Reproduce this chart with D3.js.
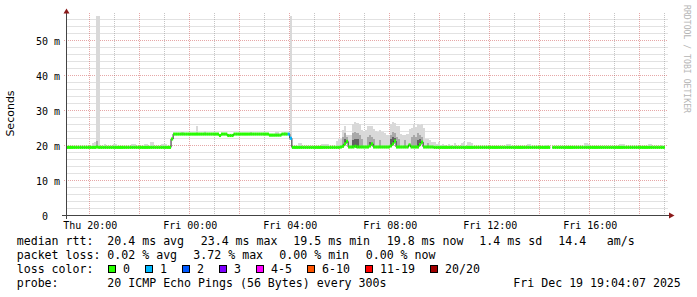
<!DOCTYPE html>
<html>
<head>
<meta charset="utf-8">
<script src="https://cdn.jsdelivr.net/npm/d3@7"></script>
<style>
  body { margin: 0; background: #fff; }
  svg { display: block; }
  text { font-family: "DejaVu Sans Mono", monospace; fill: #000; }
</style>
</head>
<body>
<svg id="chart" width="697" height="297"></svg>
<script>
// smokeping graph, last 24 hours, 5 minute steps
const graphEnd = Date.UTC(2025, 11, 19, 19, 4, 7);
const graphStart = graphEnd - 86400000;
const stepStart = Date.UTC(2025, 11, 18, 19, 5);
const stepMs = 300000;

// median rtt (ms) as [number of steps, value], null = no data
const medianRuns = [
  [14, 19.5], [1, 19.6], [35, 19.5], [1, 21.9], [22, 23.3], [1, 22.9], [3, 23.3],
  [3, 22.9], [17, 23.3], [6, 23.0], [4, 23.3], [1, 22.1], [23, 19.5], [1, 19.6],
  [1, 19.8], [1, 20.5], [1, 21.2], [3, 19.6], [1, 19.8], [6, 19.6], [1, 19.9],
  [1, 20.5], [8, 19.6], [1, 19.9], [1, 20.5], [1, 21.3], [6, 19.6], [1, 20.2],
  [4, 19.6], [1, 20.3], [1, 21.0], [5, 19.6], [56, 19.5], [1, null], [54, 19.5], [1, null]
];

// lost pings (of 20) per step, all others 0
const lossSteps = [[106, 1], [107, 1]];

// smoke: [step, ms] upper edge of the light / medium / dark grey bands
const smokeHigh = [
  [12, 20.8], [13, 21.1], [14, 57.2], [15, 57.2], [18, 20.6], [22, 20.6], [23, 20.6],
  [31, 20.4], [32, 20.4], [37, 20.5], [38, 20.5], [40, 21.0], [41, 21.0], [45, 20.4],
  [46, 20.4], [47, 20.4], [55, 23.8], [62, 25.7], [66, 24.3], [88, 23.9], [100, 23.8],
  [101, 23.8], [103, 23.7], [104, 23.8], [107, 57.2], [111, 20.8], [112, 20.8],
  [122, 20.4], [123, 20.4], [124, 20.5], [125, 20.5], [129, 21.4], [130, 21.9],
  [131, 22.0], [132, 24.5], [133, 25.5], [134, 23.0], [135, 22.9], [136, 23.0],
  [137, 26.2], [138, 26.7], [139, 26.5], [140, 26.2], [141, 24.5], [142, 24.3],
  [143, 24.6], [144, 25.7], [145, 25.7], [146, 25.7], [147, 24.8], [148, 24.3],
  [149, 24.0], [150, 24.5], [151, 23.8], [152, 23.5], [153, 23.1], [154, 23.0],
  [155, 26.2], [156, 26.7], [157, 26.4], [158, 25.7], [159, 25.5], [160, 23.3],
  [161, 22.9], [162, 23.1], [163, 23.3], [164, 24.8], [165, 25.0], [166, 26.2],
  [167, 25.2], [168, 26.2], [169, 25.8], [170, 26.2], [171, 25.0], [172, 22.0],
  [173, 21.9], [174, 21.5], [175, 21.0], [176, 21.0], [177, 20.6], [178, 20.9],
  [179, 20.3], [180, 20.6], [181, 20.3], [183, 20.5], [184, 20.3], [186, 20.7],
  [189, 20.8], [190, 20.9], [192, 21.0], [193, 20.9], [194, 20.8], [211, 20.5],
  [212, 20.4], [221, 20.4], [222, 20.5], [229, 20.3], [230, 20.3], [248, 20.8],
  [249, 20.8], [250, 20.6], [265, 20.5], [266, 20.5], [267, 20.4], [279, 20.5],
  [280, 20.5], [285, 20.3]
];
const smokeMid = [
  [14, 21.2], [132, 22.5], [133, 23.5], [134, 22.5], [137, 23.5], [138, 24.0], [139, 23.5],
  [140, 23.0], [141, 22.0], [144, 22.5], [145, 23.0], [146, 22.5], [147, 22.0],
  [150, 21.5], [155, 23.0], [156, 24.0], [157, 23.5], [158, 22.5], [159, 22.0],
  [162, 21.5], [165, 22.5], [166, 23.0], [167, 22.5], [168, 23.5], [169, 23.0],
  [170, 22.5], [173, 20.8]
];
const smokeDark = [
  [133, 21.8], [137, 21.5], [138, 22.0], [139, 21.8], [145, 21.0], [155, 22.0],
  [156, 22.5], [157, 22.3], [168, 21.5], [169, 21.8]
];

const yTicks = [0, 10, 20, 30, 40, 50];
const xTickHours = [20, 0, 4, 8, 12, 16];

const lossLabels = ["0", "1", "2", "3", "4-5", "6-10", "11-19", "20/20"];
const lossColors = ["#26ff00", "#00b8ff", "#0059ff", "#7e00ff", "#ff00ff", "#ff5500", "#ff0000", "#a10000"];

const rttStats = ["20.4 ms avg", "23.4 ms max", "19.5 ms min", "19.8 ms now", "1.4 ms sd", "14.4", "am/s"];
const lossStats = ["0.02 % avg", "3.72 % max", "0.00 % min", "0.00 % now"];
const probeText = "20 ICMP Echo Pings (56 Bytes) every 300s";
const stampText = "Fri Dec 19 19:04:07 2025";

// layout
const rttX = [107.3, 200.7, 293.3, 386.7, 479.3, 558.3, 606.7];
const lossX = [107.3, 193.3, 279.3, 365.7];
const rowY = [245, 259, 273, 286.8];
const bandMs = 0.45;

const median = medianRuns.flatMap(([n, v]) => Array(n).fill(v));
const lossCount = median.map(() => 0);
lossSteps.forEach(([i, n]) => { lossCount[i] = n; });

function lossBucket(n) {
  if (n <= 3) return n;
  if (n <= 5) return 4;
  if (n <= 10) return 5;
  if (n <= 19) return 6;
  return 7;
}

const steps = median.map((m, i) => ({
  t0: new Date(stepStart + i * stepMs),
  t1: new Date(stepStart + (i + 1) * stepMs),
  median: m,
  loss: lossCount[i]
}));

const svg = d3.select('#chart');

const x = d3.scaleUtc().domain([new Date(graphStart), new Date(graphEnd)]).range([66.5, 666.5]);
const y = d3.scaleLinear().domain([0, 57.24]).range([215.5, 15.5]);
const snap = v => Math.floor(v) + 0.5;

svg.append('rect').attr('width', 697).attr('height', 297).attr('fill', '#fff');

// grid
const grid = svg.append('g');
const hours = d3.utcHour.range(new Date(graphStart), new Date(graphEnd));
const minorY = d3.range(2, 57, 2).filter(v => v % 10 !== 0);
const majorY = yTicks.filter(v => v > 0);

grid.selectAll('line.hminor').data(minorY).join('line')
  .attr('x1', 66.5).attr('x2', 668)
  .attr('y1', d => snap(y(d))).attr('y2', d => snap(y(d)))
  .attr('stroke', 'rgba(140,140,140,0.5)').attr('stroke-dasharray', '1,1');
grid.selectAll('line.vminor').data(hours.filter(h => h.getUTCHours() % 2 === 1)).join('line')
  .attr('x1', d => snap(x(d))).attr('x2', d => snap(x(d)))
  .attr('y1', 13).attr('y2', 215)
  .attr('stroke', 'rgba(140,140,140,0.5)').attr('stroke-dasharray', '1,1');
grid.selectAll('line.hmajor').data(majorY).join('line')
  .attr('x1', 64).attr('x2', 668)
  .attr('y1', d => snap(y(d))).attr('y2', d => snap(y(d)))
  .attr('stroke', 'rgba(200,60,60,0.45)').attr('stroke-dasharray', '1,1');
grid.selectAll('line.vmajor').data(hours.filter(h => h.getUTCHours() % 2 === 0)).join('line')
  .attr('x1', d => snap(x(d))).attr('x2', d => snap(x(d)))
  .attr('y1', 13).attr('y2', 215)
  .attr('stroke', 'rgba(200,60,60,0.45)').attr('stroke-dasharray', '1,1');

svg.append('clipPath').attr('id', 'plot')
  .append('rect').attr('x', 66.5).attr('y', 10).attr('width', 600).attr('height', 206);

const plot = svg.append('g').attr('clip-path', 'url(#plot)');

// smoke
function drawSmoke(list, color) {
  plot.append('g').selectAll('rect').data(list).join('rect')
    .attr('x', d => x(steps[d[0]].t0))
    .attr('width', d => x(steps[d[0]].t1) - x(steps[d[0]].t0))
    .attr('y', d => y(d[1]))
    .attr('height', d => y(steps[d[0]].median - 0.3) - y(d[1]))
    .attr('fill', color)
    .attr('shape-rendering', 'crispEdges');
}
drawSmoke(smokeHigh, '#d9d9d9');
drawSmoke(smokeMid, '#a9a9a9');
drawSmoke(smokeDark, '#626262');

// black median line
const pts = steps.flatMap(d => [{ t: d.t0, v: d.median }, { t: d.t1, v: d.median }]);
plot.append('path')
  .attr('d', d3.line().defined(d => d.v != null).x(d => x(d.t)).y(d => y(d.v))(pts))
  .attr('fill', 'none').attr('stroke', '#202020').attr('stroke-width', 1);

// median band coloured by loss
plot.append('g').selectAll('rect').data(steps.filter(d => d.median != null)).join('rect')
  .attr('x', d => x(d.t0))
  .attr('width', d => x(d.t1) - x(d.t0))
  .attr('y', d => y(d.median + bandMs))
  .attr('height', d => y(d.median - bandMs) - y(d.median + bandMs))
  .attr('fill', d => lossColors[lossBucket(d.loss)]);

// axes
const xAxis = d3.axisBottom(x)
  .tickValues(xTickHours.map(h => new Date(Date.UTC(2025, 11, h >= 19 ? 18 : 19, h))))
  .tickFormat(d3.utcFormat('%a %H:%M'))
  .tickSize(0);
const gx = svg.append('g').attr('transform', 'translate(0,215)').call(xAxis);
gx.select('.domain').remove();
gx.selectAll('text').attr('y', 13.5).attr('dy', null)
  .attr('font-size', 10).attr('font-family', 'DejaVu Sans Mono').attr('fill', '#000');

const yAxis = d3.axisLeft(y).tickValues(yTicks)
  .tickFormat(d => d ? d + ' m' : '0').tickSize(0);
const gy = svg.append('g').attr('transform', 'translate(66.5,0)').call(yAxis);
gy.select('.domain').remove();
gy.selectAll('text').attr('x', d => d ? -6.5 : -18.5).attr('dy', '0.36em')
  .attr('font-size', 10).attr('font-family', 'DejaVu Sans Mono').attr('fill', '#000');

svg.append('line').attr('x1', 62).attr('x2', 669).attr('y1', 215.5).attr('y2', 215.5)
  .attr('stroke', '#444');
svg.append('line').attr('x1', 66.5).attr('x2', 66.5).attr('y1', 13).attr('y2', 219)
  .attr('stroke', '#444');
svg.append('path').attr('d', 'M63.5,13.5L69.5,13.5L66.5,8.5Z').attr('fill', '#8b1a1a');
svg.append('path').attr('d', 'M669,212.5L669,218.5L674.5,215.5Z').attr('fill', '#8b1a1a');

// y title and watermark
svg.append('text')
  .attr('transform', 'translate(13.5,113.5) rotate(-90)')
  .attr('text-anchor', 'middle')
  .style('font-family', '"DejaVu Sans", sans-serif')
  .attr('font-size', 11)
  .text('Seconds');

svg.append('text')
  .attr('transform', 'translate(684,5) rotate(90)')
  .attr('font-size', 9)
  .attr('textLength', 108).attr('lengthAdjust', 'spacingAndGlyphs')
  .style('fill', '#b4b4b4')
  .text('RRDTOOL / TOBI OETIKER');

// legend
const legend = svg.append('g').attr('font-size', 11.6);
legend.append('text').attr('x', 16.7).attr('y', rowY[0]).text('median rtt:');
legend.selectAll('text.rtt').data(rttStats).join('text').attr('class', 'rtt')
  .attr('x', (d, i) => rttX[i]).attr('y', rowY[0]).text(d => d);

legend.append('text').attr('x', 16.7).attr('y', rowY[1]).text('packet loss:');
legend.selectAll('text.loss').data(lossStats).join('text').attr('class', 'loss')
  .attr('x', (d, i) => lossX[i]).attr('y', rowY[1]).text(d => d);

legend.append('text').attr('x', 16.7).attr('y', rowY[2]).text('loss color:');
let bx = 108.3;
lossLabels.forEach((lab, i) => {
  legend.append('rect').attr('x', Math.round(bx) + 0.5).attr('y', 265.5)
    .attr('width', 7).attr('height', 7)
    .attr('fill', lossColors[i]).attr('stroke', '#000');
  legend.append('text').attr('x', bx + 14.7).attr('y', rowY[2]).text(lab);
  bx = bx + 14.7 + lab.length * 7 + 15.3;
});

legend.append('text').attr('x', 16.7).attr('y', rowY[3]).text('probe:');
legend.append('text').attr('x', 107.3).attr('y', rowY[3]).text(probeText);
legend.append('text').attr('x', 513.3).attr('y', rowY[3]).text(stampText);
</script>
</body>
</html>
